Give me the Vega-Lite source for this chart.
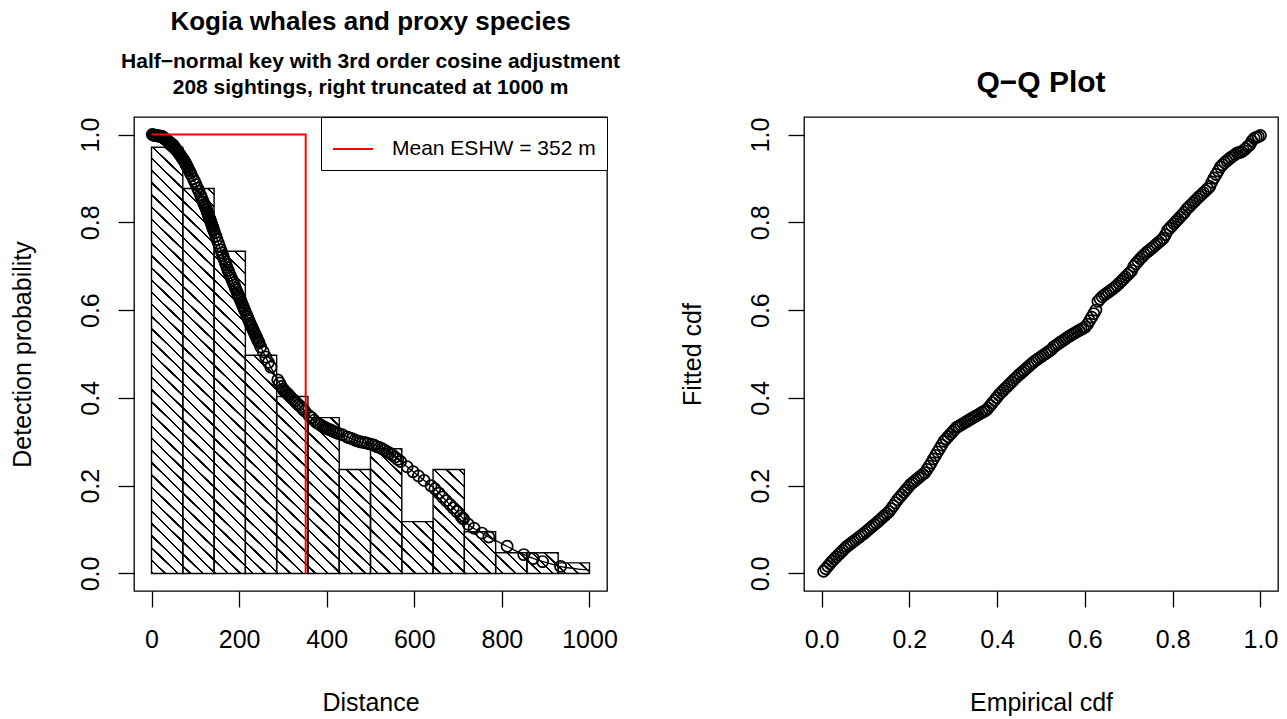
{
"$schema": "https://vega.github.io/schema/vega-lite/v6.json",
"background": "white",
"padding": {"left": 9, "top": 7, "right": 7, "bottom": 2},
"bounds": "flush",
"spacing": 197,
"config": {
  "font": "Liberation Sans",
  "view": {"stroke": "black", "strokeWidth": 1.3},
  "axis": {"domain": false, "grid": false, "ticks": true, "tickColor": "black", "tickWidth": 1.3, "tickSize": 16, "labelFont": "Liberation Sans", "labelFontSize": 25, "labelColor": "black", "titleFont": "Liberation Sans", "titleFontSize": 25, "titleFontWeight": "normal", "titleColor": "black", "labelFlush": false, "labelOverlap": false},
  "axisX": {"labelPadding": 20, "titlePadding": 38},
  "axisY": {"labelAngle": 270, "labelAlign": "center", "labelBaseline": "alphabetic", "labelPadding": 19.5, "titlePadding": 43},
  "title": {"font": "Liberation Sans", "fontWeight": "bold", "color": "black", "anchor": "middle", "frame": "group", "subtitleFont": "Liberation Sans", "subtitleFontWeight": "bold", "subtitleColor": "black"}
},
"datasets": {
  "hist": [
    {"lo": 0, "hi": 71.43, "n": 41, "h": 0.971},
    {"lo": 71.43, "hi": 142.86, "n": 37, "h": 0.877},
    {"lo": 142.86, "hi": 214.29, "n": 31, "h": 0.734},
    {"lo": 214.29, "hi": 285.71, "n": 21, "h": 0.497},
    {"lo": 285.71, "hi": 357.14, "n": 17, "h": 0.403},
    {"lo": 357.14, "hi": 428.57, "n": 15, "h": 0.355},
    {"lo": 428.57, "hi": 500, "n": 10, "h": 0.237},
    {"lo": 500, "hi": 571.43, "n": 12, "h": 0.284},
    {"lo": 571.43, "hi": 642.86, "n": 5, "h": 0.118},
    {"lo": 642.86, "hi": 714.29, "n": 10, "h": 0.237},
    {"lo": 714.29, "hi": 785.71, "n": 4, "h": 0.095},
    {"lo": 785.71, "hi": 857.14, "n": 2, "h": 0.047},
    {"lo": 857.14, "hi": 928.57, "n": 2, "h": 0.047},
    {"lo": 928.57, "hi": 1000, "n": 1, "h": 0.024}
  ],
  "curve": [
    {"d": 0, "p": 1.0}, {"d": 25, "p": 0.995}, {"d": 50, "p": 0.975}, {"d": 75, "p": 0.94}, {"d": 100, "p": 0.89},
    {"d": 125, "p": 0.83}, {"d": 150, "p": 0.76}, {"d": 175, "p": 0.69}, {"d": 200, "p": 0.63}, {"d": 225, "p": 0.57},
    {"d": 250, "p": 0.515}, {"d": 275, "p": 0.465}, {"d": 300, "p": 0.42}, {"d": 325, "p": 0.395}, {"d": 350, "p": 0.37},
    {"d": 375, "p": 0.345}, {"d": 400, "p": 0.33}, {"d": 425, "p": 0.32}, {"d": 450, "p": 0.31}, {"d": 475, "p": 0.30},
    {"d": 500, "p": 0.295}, {"d": 525, "p": 0.285}, {"d": 550, "p": 0.27}, {"d": 575, "p": 0.25}, {"d": 600, "p": 0.23},
    {"d": 625, "p": 0.21}, {"d": 650, "p": 0.19}, {"d": 675, "p": 0.163}, {"d": 700, "p": 0.138}, {"d": 725, "p": 0.11},
    {"d": 750, "p": 0.095}, {"d": 775, "p": 0.08}, {"d": 800, "p": 0.068}, {"d": 825, "p": 0.055}, {"d": 850, "p": 0.043},
    {"d": 875, "p": 0.033}, {"d": 900, "p": 0.025}, {"d": 925, "p": 0.018}, {"d": 950, "p": 0.013}, {"d": 975, "p": 0.01},
    {"d": 1000, "p": 0.008}
  ],
  "eshw": [
    {"x": 0, "y": 1, "o": 1, "k": "Mean ESHW = 352 m"},
    {"x": 352, "y": 1, "o": 2, "k": "Mean ESHW = 352 m"},
    {"x": 352, "y": 0, "o": 3, "k": "Mean ESHW = 352 m"}
  ],
  "pts": [
    {"d":1.8,"p":1.0,"e":0.0048,"f":0.005},{"d":3.8,"p":0.999,"e":0.0096,"f":0.0107},{"d":5.8,"p":0.999,"e":0.0144,"f":0.0164},{"d":7.8,"p":0.998,"e":0.0192,"f":0.0221},
    {"d":9.8,"p":0.998,"e":0.024,"f":0.0278},{"d":11.6,"p":0.998,"e":0.0288,"f":0.0328},{"d":13.3,"p":0.997,"e":0.0337,"f":0.0377},{"d":15.0,"p":0.997,"e":0.0385,"f":0.0425},
    {"d":16.7,"p":0.997,"e":0.0433,"f":0.0473},{"d":18.4,"p":0.996,"e":0.0481,"f":0.0521},{"d":20.1,"p":0.996,"e":0.0529,"f":0.0569},{"d":21.7,"p":0.996,"e":0.0577,"f":0.0613},
    {"d":23.0,"p":0.995,"e":0.0625,"f":0.065},{"d":24.3,"p":0.995,"e":0.0673,"f":0.0687},{"d":25.6,"p":0.995,"e":0.0721,"f":0.0724},{"d":26.9,"p":0.993,"e":0.0769,"f":0.076},
    {"d":28.3,"p":0.992,"e":0.0817,"f":0.0797},{"d":29.6,"p":0.991,"e":0.0865,"f":0.0834},{"d":30.9,"p":0.99,"e":0.0913,"f":0.087},{"d":32.3,"p":0.989,"e":0.0962,"f":0.0908},
    {"d":33.7,"p":0.988,"e":0.101,"f":0.0948},{"d":35.2,"p":0.987,"e":0.1058,"f":0.0989},{"d":36.6,"p":0.986,"e":0.1106,"f":0.1029},{"d":38.1,"p":0.985,"e":0.1154,"f":0.107},
    {"d":39.5,"p":0.983,"e":0.1202,"f":0.111},{"d":40.9,"p":0.982,"e":0.125,"f":0.115},{"d":42.5,"p":0.981,"e":0.1298,"f":0.1193},{"d":44.0,"p":0.98,"e":0.1346,"f":0.1236},
    {"d":45.6,"p":0.979,"e":0.1394,"f":0.128},{"d":47.2,"p":0.977,"e":0.1442,"f":0.1323},{"d":48.7,"p":0.976,"e":0.149,"f":0.1366},{"d":50.3,"p":0.975,"e":0.1538,"f":0.1409},
    {"d":52.6,"p":0.971,"e":0.1587,"f":0.1473},{"d":55.1,"p":0.968,"e":0.1635,"f":0.1541},{"d":57.6,"p":0.964,"e":0.1683,"f":0.1609},{"d":60.1,"p":0.961,"e":0.1731,"f":0.1677},
    {"d":62.3,"p":0.958,"e":0.1779,"f":0.1735},{"d":64.3,"p":0.955,"e":0.1827,"f":0.1791},{"d":66.4,"p":0.952,"e":0.1875,"f":0.1847},{"d":68.5,"p":0.949,"e":0.1923,"f":0.1903},
    {"d":70.5,"p":0.946,"e":0.1971,"f":0.1959},
    {"d":72.8,"p":0.943,"e":0.2019,"f":0.2021},{"d":74.3,"p":0.941,"e":0.2067,"f":0.2061},{"d":75.8,"p":0.938,"e":0.2115,"f":0.21},{"d":77.3,"p":0.935,"e":0.2163,"f":0.214},
    {"d":78.8,"p":0.932,"e":0.2212,"f":0.218},{"d":80.4,"p":0.929,"e":0.226,"f":0.222},{"d":81.9,"p":0.926,"e":0.2308,"f":0.2259},{"d":83.4,"p":0.923,"e":0.2356,"f":0.2298},
    {"d":86.2,"p":0.918,"e":0.2404,"f":0.237},{"d":89.0,"p":0.912,"e":0.2452,"f":0.2444},{"d":91.9,"p":0.906,"e":0.25,"f":0.2519},{"d":95.4,"p":0.899,"e":0.2548,"f":0.2608},
    {"d":98.5,"p":0.893,"e":0.2596,"f":0.2688},{"d":101.6,"p":0.886,"e":0.2644,"f":0.2767},{"d":104.9,"p":0.878,"e":0.2692,"f":0.2846},{"d":108.1,"p":0.871,"e":0.274,"f":0.2926},
    {"d":111.6,"p":0.862,"e":0.2788,"f":0.3011},{"d":113.8,"p":0.857,"e":0.2837,"f":0.3064},{"d":116.0,"p":0.852,"e":0.2885,"f":0.3117},{"d":118.2,"p":0.846,"e":0.2933,"f":0.317},
    {"d":120.4,"p":0.841,"e":0.2981,"f":0.3223},{"d":122.5,"p":0.836,"e":0.3029,"f":0.3275},{"d":124.7,"p":0.831,"e":0.3077,"f":0.3328},{"d":125.8,"p":0.828,"e":0.3125,"f":0.3353},
    {"d":127.0,"p":0.824,"e":0.3173,"f":0.3382},{"d":128.3,"p":0.821,"e":0.3221,"f":0.3411},{"d":129.6,"p":0.817,"e":0.3269,"f":0.344},{"d":130.9,"p":0.813,"e":0.3317,"f":0.3469},
    {"d":132.2,"p":0.81,"e":0.3365,"f":0.3498},{"d":133.5,"p":0.806,"e":0.3413,"f":0.3527},{"d":134.8,"p":0.803,"e":0.3462,"f":0.3557},{"d":136.0,"p":0.799,"e":0.351,"f":0.3584},
    {"d":137.2,"p":0.796,"e":0.3558,"f":0.3611},{"d":138.4,"p":0.792,"e":0.3606,"f":0.3638},{"d":139.7,"p":0.789,"e":0.3654,"f":0.3666},{"d":140.9,"p":0.785,"e":0.3702,"f":0.3693},
    {"d":142.1,"p":0.782,"e":0.375,"f":0.372},
    {"d":144.2,"p":0.776,"e":0.3798,"f":0.3768},{"d":146.9,"p":0.769,"e":0.3846,"f":0.3827},{"d":149.5,"p":0.761,"e":0.3894,"f":0.3887},{"d":152.4,"p":0.753,"e":0.3942,"f":0.3947},
    {"d":155.3,"p":0.745,"e":0.399,"f":0.4006},{"d":158.2,"p":0.737,"e":0.4038,"f":0.4066},{"d":160.7,"p":0.73,"e":0.4087,"f":0.4117},{"d":163.0,"p":0.724,"e":0.4135,"f":0.4165},
    {"d":165.4,"p":0.717,"e":0.4183,"f":0.4213},{"d":167.7,"p":0.71,"e":0.4231,"f":0.4261},{"d":170.0,"p":0.704,"e":0.4279,"f":0.4309},{"d":172.4,"p":0.697,"e":0.4327,"f":0.4357},
    {"d":174.7,"p":0.691,"e":0.4375,"f":0.4405},{"d":177.2,"p":0.685,"e":0.4423,"f":0.4453},{"d":179.7,"p":0.679,"e":0.4471,"f":0.4498},{"d":182.0,"p":0.673,"e":0.4519,"f":0.4541},
    {"d":184.3,"p":0.668,"e":0.4567,"f":0.4584},{"d":186.6,"p":0.662,"e":0.4615,"f":0.4627},{"d":188.8,"p":0.657,"e":0.4663,"f":0.4669},{"d":191.1,"p":0.651,"e":0.4712,"f":0.4712},
    {"d":193.4,"p":0.646,"e":0.476,"f":0.4755},{"d":195.7,"p":0.64,"e":0.4808,"f":0.4797},{"d":197.6,"p":0.636,"e":0.4856,"f":0.4834},{"d":199.5,"p":0.631,"e":0.4904,"f":0.4868},
    {"d":201.4,"p":0.627,"e":0.4952,"f":0.4902},{"d":203.4,"p":0.622,"e":0.5,"f":0.4936},{"d":205.4,"p":0.617,"e":0.5048,"f":0.497},{"d":207.4,"p":0.612,"e":0.5096,"f":0.5003},
    {"d":209.3,"p":0.608,"e":0.5144,"f":0.5036},{"d":211.3,"p":0.603,"e":0.5192,"f":0.5069},{"d":213.2,"p":0.598,"e":0.524,"f":0.5102},
    {"d":216.8,"p":0.59,"e":0.5288,"f":0.5162},{"d":218.7,"p":0.585,"e":0.5337,"f":0.5195},{"d":220.7,"p":0.58,"e":0.5385,"f":0.5228},{"d":222.6,"p":0.576,"e":0.5433,"f":0.5261},
    {"d":224.5,"p":0.571,"e":0.5481,"f":0.5294},{"d":226.6,"p":0.566,"e":0.5529,"f":0.5327},{"d":228.8,"p":0.562,"e":0.5577,"f":0.536},{"d":230.9,"p":0.557,"e":0.5625,"f":0.5393},
    {"d":232.9,"p":0.553,"e":0.5673,"f":0.5423},{"d":234.7,"p":0.549,"e":0.5721,"f":0.5451},{"d":236.5,"p":0.545,"e":0.5769,"f":0.5479},{"d":238.3,"p":0.541,"e":0.5817,"f":0.5506},
    {"d":240.1,"p":0.537,"e":0.5865,"f":0.5534},{"d":241.9,"p":0.533,"e":0.5913,"f":0.5562},{"d":243.8,"p":0.529,"e":0.5962,"f":0.559},{"d":245.6,"p":0.525,"e":0.601,"f":0.5618},
    {"d":249.4,"p":0.516,"e":0.6058,"f":0.5677},{"d":255.2,"p":0.505,"e":0.6106,"f":0.5758},{"d":261.0,"p":0.493,"e":0.6154,"f":0.5839},{"d":266.8,"p":0.481,"e":0.6202,"f":0.5919},
    {"d":272.6,"p":0.47,"e":0.625,"f":0.6},
    {"d":288.3,"p":0.441,"e":0.6298,"f":0.62},{"d":292.5,"p":0.434,"e":0.6346,"f":0.6252},{"d":296.7,"p":0.426,"e":0.6394,"f":0.6305},{"d":299.8,"p":0.42,"e":0.6442,"f":0.6343},
    {"d":302.9,"p":0.417,"e":0.649,"f":0.6379},{"d":305.9,"p":0.414,"e":0.6538,"f":0.6414},{"d":309.0,"p":0.411,"e":0.6587,"f":0.645},{"d":312.0,"p":0.408,"e":0.6635,"f":0.6485},
    {"d":315.1,"p":0.405,"e":0.6683,"f":0.652},{"d":318.6,"p":0.401,"e":0.6731,"f":0.656},{"d":322.8,"p":0.397,"e":0.6779,"f":0.6609},{"d":327.1,"p":0.393,"e":0.6827,"f":0.6657},
    {"d":331.6,"p":0.388,"e":0.6875,"f":0.6705},{"d":336.0,"p":0.384,"e":0.6923,"f":0.6753},{"d":340.5,"p":0.38,"e":0.6971,"f":0.6801},{"d":344.9,"p":0.375,"e":0.7019,"f":0.6849},
    {"d":349.6,"p":0.37,"e":0.7067,"f":0.69},
    {"d":359.5,"p":0.36,"e":0.7115,"f":0.7},{"d":365.2,"p":0.355,"e":0.7163,"f":0.7058},{"d":371.0,"p":0.349,"e":0.7212,"f":0.7116},{"d":376.4,"p":0.344,"e":0.726,"f":0.717},
    {"d":381.4,"p":0.341,"e":0.7308,"f":0.7218},{"d":386.4,"p":0.338,"e":0.7356,"f":0.7266},{"d":391.5,"p":0.335,"e":0.7404,"f":0.7314},{"d":395.1,"p":0.333,"e":0.7452,"f":0.7349},
    {"d":399.4,"p":0.33,"e":0.75,"f":0.739},{"d":403.7,"p":0.329,"e":0.7548,"f":0.743},{"d":408.2,"p":0.327,"e":0.7596,"f":0.7471},{"d":412.6,"p":0.325,"e":0.7644,"f":0.7512},
    {"d":417.0,"p":0.323,"e":0.7692,"f":0.7552},{"d":421.4,"p":0.321,"e":0.774,"f":0.7593},{"d":426.5,"p":0.319,"e":0.7788,"f":0.764},
    {"d":435.5,"p":0.316,"e":0.7837,"f":0.772},{"d":446.4,"p":0.311,"e":0.7885,"f":0.7817},{"d":452.2,"p":0.309,"e":0.7933,"f":0.7868},{"d":458.1,"p":0.307,"e":0.7981,"f":0.7919},
    {"d":464.0,"p":0.304,"e":0.8029,"f":0.797},{"d":470.0,"p":0.302,"e":0.8077,"f":0.8022},{"d":476.0,"p":0.3,"e":0.8125,"f":0.8073},{"d":482.0,"p":0.299,"e":0.8173,"f":0.8124},
    {"d":488.1,"p":0.298,"e":0.8221,"f":0.8175},{"d":494.2,"p":0.296,"e":0.8269,"f":0.8226},
    {"d":502.7,"p":0.294,"e":0.8317,"f":0.8297},{"d":508.5,"p":0.292,"e":0.8365,"f":0.8345},{"d":514.4,"p":0.289,"e":0.8413,"f":0.8393},{"d":520.4,"p":0.287,"e":0.8462,"f":0.8442},
    {"d":526.3,"p":0.284,"e":0.851,"f":0.849},{"d":532.4,"p":0.281,"e":0.8558,"f":0.8538},{"d":538.5,"p":0.277,"e":0.8606,"f":0.8586},{"d":544.0,"p":0.274,"e":0.8654,"f":0.863},
    {"d":549.9,"p":0.27,"e":0.8702,"f":0.8676},{"d":555.9,"p":0.265,"e":0.875,"f":0.872},{"d":562.3,"p":0.26,"e":0.8798,"f":0.8767},{"d":568.9,"p":0.255,"e":0.8846,"f":0.8815},
    {"d":583.8,"p":0.243,"e":0.8894,"f":0.892},{"d":597.1,"p":0.232,"e":0.8942,"f":0.901},{"d":609.6,"p":0.222,"e":0.899,"f":0.909},{"d":622.4,"p":0.212,"e":0.9038,"f":0.917},
    {"d":638.1,"p":0.2,"e":0.9087,"f":0.926},
    {"d":646.9,"p":0.193,"e":0.9135,"f":0.931},{"d":656.6,"p":0.183,"e":0.9183,"f":0.936},{"d":664.6,"p":0.174,"e":0.9231,"f":0.94},{"d":672.6,"p":0.166,"e":0.9279,"f":0.944},
    {"d":681.5,"p":0.157,"e":0.9327,"f":0.948},{"d":688.6,"p":0.149,"e":0.9375,"f":0.951},{"d":696.7,"p":0.141,"e":0.9423,"f":0.9545},{"d":706.0,"p":0.131,"e":0.9471,"f":0.958},
    {"d":710.3,"p":0.126,"e":0.9519,"f":0.9595},{"d":712.6,"p":0.124,"e":0.9567,"f":0.9603},
    {"d":723.2,"p":0.112,"e":0.9615,"f":0.964},{"d":736.6,"p":0.103,"e":0.9663,"f":0.968},{"d":754.4,"p":0.092,"e":0.9712,"f":0.973},{"d":770.2,"p":0.083,"e":0.976,"f":0.977},
    {"d":812,"p":0.062,"e":0.9808,"f":0.9854},{"d":850,"p":0.043,"e":0.9856,"f":0.9911},{"d":872,"p":0.034,"e":0.9904,"f":0.9935},{"d":893,"p":0.027,"e":0.9952,"f":0.9952},
    {"d":934,"p":0.016,"e":1.0,"f":0.9978}
  ]
},
"hconcat": [
  {
    "width": 473,
    "height": 474,
    "title": {"text": "Kogia whales and proxy species", "subtitle": ["Half\u2212normal key with 3rd order cosine adjustment", "208 sightings, right truncated at 1000 m"], "fontSize": 26, "subtitleFontSize": 21, "subtitleLineHeight": 26, "subtitlePadding": 16, "offset": 19},
    "layer": [
      {
        "data": {"name": "hist"},
        "transform": [{"fold": ["lo", "hi"], "as": ["edge", "xv"]}],
        "mark": {"type": "area", "stroke": null, "opacity": 1, "fill": {"gradient": "linear", "x1": 0, "y1": 1, "x2": 1, "y2": 0, "stops": [
          {"offset":0,"color":"#fff"},{"offset":0.0003,"color":"#000"},{"offset":0.0027,"color":"#000"},{"offset":0.003,"color":"#fff"},
          {"offset":0.0143,"color":"#fff"},{"offset":0.0146,"color":"#000"},{"offset":0.017,"color":"#000"},{"offset":0.0173,"color":"#fff"},
          {"offset":0.0286,"color":"#fff"},{"offset":0.0289,"color":"#000"},{"offset":0.0313,"color":"#000"},{"offset":0.0316,"color":"#fff"},
          {"offset":0.0429,"color":"#fff"},{"offset":0.0432,"color":"#000"},{"offset":0.0456,"color":"#000"},{"offset":0.0459,"color":"#fff"},
          {"offset":0.0571,"color":"#fff"},{"offset":0.0574,"color":"#000"},{"offset":0.0598,"color":"#000"},{"offset":0.0601,"color":"#fff"},
          {"offset":0.0714,"color":"#fff"},{"offset":0.0717,"color":"#000"},{"offset":0.0741,"color":"#000"},{"offset":0.0744,"color":"#fff"},
          {"offset":0.0857,"color":"#fff"},{"offset":0.086,"color":"#000"},{"offset":0.0884,"color":"#000"},{"offset":0.0887,"color":"#fff"},
          {"offset":0.1,"color":"#fff"},{"offset":0.1003,"color":"#000"},{"offset":0.1027,"color":"#000"},{"offset":0.103,"color":"#fff"},
          {"offset":0.1143,"color":"#fff"},{"offset":0.1146,"color":"#000"},{"offset":0.117,"color":"#000"},{"offset":0.1173,"color":"#fff"},
          {"offset":0.1286,"color":"#fff"},{"offset":0.1289,"color":"#000"},{"offset":0.1313,"color":"#000"},{"offset":0.1316,"color":"#fff"},
          {"offset":0.1429,"color":"#fff"},{"offset":0.1432,"color":"#000"},{"offset":0.1456,"color":"#000"},{"offset":0.1459,"color":"#fff"},
          {"offset":0.1571,"color":"#fff"},{"offset":0.1574,"color":"#000"},{"offset":0.1598,"color":"#000"},{"offset":0.1601,"color":"#fff"},
          {"offset":0.1714,"color":"#fff"},{"offset":0.1717,"color":"#000"},{"offset":0.1741,"color":"#000"},{"offset":0.1744,"color":"#fff"},
          {"offset":0.1857,"color":"#fff"},{"offset":0.186,"color":"#000"},{"offset":0.1884,"color":"#000"},{"offset":0.1887,"color":"#fff"},
          {"offset":0.2,"color":"#fff"},{"offset":0.2003,"color":"#000"},{"offset":0.2027,"color":"#000"},{"offset":0.203,"color":"#fff"},
          {"offset":0.2143,"color":"#fff"},{"offset":0.2146,"color":"#000"},{"offset":0.217,"color":"#000"},{"offset":0.2173,"color":"#fff"},
          {"offset":0.2286,"color":"#fff"},{"offset":0.2289,"color":"#000"},{"offset":0.2313,"color":"#000"},{"offset":0.2316,"color":"#fff"},
          {"offset":0.2429,"color":"#fff"},{"offset":0.2432,"color":"#000"},{"offset":0.2456,"color":"#000"},{"offset":0.2459,"color":"#fff"},
          {"offset":0.2571,"color":"#fff"},{"offset":0.2574,"color":"#000"},{"offset":0.2598,"color":"#000"},{"offset":0.2601,"color":"#fff"},
          {"offset":0.2714,"color":"#fff"},{"offset":0.2717,"color":"#000"},{"offset":0.2741,"color":"#000"},{"offset":0.2744,"color":"#fff"},
          {"offset":0.2857,"color":"#fff"},{"offset":0.286,"color":"#000"},{"offset":0.2884,"color":"#000"},{"offset":0.2887,"color":"#fff"},
          {"offset":0.3,"color":"#fff"},{"offset":0.3003,"color":"#000"},{"offset":0.3027,"color":"#000"},{"offset":0.303,"color":"#fff"},
          {"offset":0.3143,"color":"#fff"},{"offset":0.3146,"color":"#000"},{"offset":0.317,"color":"#000"},{"offset":0.3173,"color":"#fff"},
          {"offset":0.3286,"color":"#fff"},{"offset":0.3289,"color":"#000"},{"offset":0.3313,"color":"#000"},{"offset":0.3316,"color":"#fff"},
          {"offset":0.3429,"color":"#fff"},{"offset":0.3432,"color":"#000"},{"offset":0.3456,"color":"#000"},{"offset":0.3459,"color":"#fff"},
          {"offset":0.3571,"color":"#fff"},{"offset":0.3574,"color":"#000"},{"offset":0.3598,"color":"#000"},{"offset":0.3601,"color":"#fff"},
          {"offset":0.3714,"color":"#fff"},{"offset":0.3717,"color":"#000"},{"offset":0.3741,"color":"#000"},{"offset":0.3744,"color":"#fff"},
          {"offset":0.3857,"color":"#fff"},{"offset":0.386,"color":"#000"},{"offset":0.3884,"color":"#000"},{"offset":0.3887,"color":"#fff"},
          {"offset":0.4,"color":"#fff"},{"offset":0.4003,"color":"#000"},{"offset":0.4027,"color":"#000"},{"offset":0.403,"color":"#fff"},
          {"offset":0.4143,"color":"#fff"},{"offset":0.4146,"color":"#000"},{"offset":0.417,"color":"#000"},{"offset":0.4173,"color":"#fff"},
          {"offset":0.4286,"color":"#fff"},{"offset":0.4289,"color":"#000"},{"offset":0.4313,"color":"#000"},{"offset":0.4316,"color":"#fff"},
          {"offset":0.4429,"color":"#fff"},{"offset":0.4432,"color":"#000"},{"offset":0.4456,"color":"#000"},{"offset":0.4459,"color":"#fff"},
          {"offset":0.4571,"color":"#fff"},{"offset":0.4574,"color":"#000"},{"offset":0.4598,"color":"#000"},{"offset":0.4601,"color":"#fff"},
          {"offset":0.4714,"color":"#fff"},{"offset":0.4717,"color":"#000"},{"offset":0.4741,"color":"#000"},{"offset":0.4744,"color":"#fff"},
          {"offset":0.4857,"color":"#fff"},{"offset":0.486,"color":"#000"},{"offset":0.4884,"color":"#000"},{"offset":0.4887,"color":"#fff"},
          {"offset":0.5,"color":"#fff"},{"offset":0.5003,"color":"#000"},{"offset":0.5027,"color":"#000"},{"offset":0.503,"color":"#fff"},
          {"offset":0.5143,"color":"#fff"},{"offset":0.5146,"color":"#000"},{"offset":0.517,"color":"#000"},{"offset":0.5173,"color":"#fff"},
          {"offset":0.5286,"color":"#fff"},{"offset":0.5289,"color":"#000"},{"offset":0.5313,"color":"#000"},{"offset":0.5316,"color":"#fff"},
          {"offset":0.5429,"color":"#fff"},{"offset":0.5432,"color":"#000"},{"offset":0.5456,"color":"#000"},{"offset":0.5459,"color":"#fff"},
          {"offset":0.5571,"color":"#fff"},{"offset":0.5574,"color":"#000"},{"offset":0.5598,"color":"#000"},{"offset":0.5601,"color":"#fff"},
          {"offset":0.5714,"color":"#fff"},{"offset":0.5717,"color":"#000"},{"offset":0.5741,"color":"#000"},{"offset":0.5744,"color":"#fff"},
          {"offset":0.5857,"color":"#fff"},{"offset":0.586,"color":"#000"},{"offset":0.5884,"color":"#000"},{"offset":0.5887,"color":"#fff"},
          {"offset":0.6,"color":"#fff"},{"offset":0.6003,"color":"#000"},{"offset":0.6027,"color":"#000"},{"offset":0.603,"color":"#fff"},
          {"offset":1,"color":"#fff"}
        ]}},
        "encoding": {
          "x": {"field": "xv", "type": "quantitative", "title": "Distance", "scale": {"domain": [-40, 1040], "nice": false, "zero": false}, "axis": {"values": [0, 200, 400, 600, 800, 1000], "format": "d"}},
          "y": {"field": "h", "type": "quantitative", "title": "Detection probability", "scale": {"domain": [-0.04, 1.04], "nice": false, "zero": false}, "axis": {"values": [0, 0.2, 0.4, 0.6, 0.8, 1.0], "format": ".1f"}},
          "y2": {"datum": 0}
        }
      },
      {
        "data": {"name": "hist"},
        "mark": {"type": "bar", "fill": "transparent", "stroke": "black", "strokeWidth": 1.4, "opacity": 1},
        "encoding": {
          "x": {"field": "lo", "type": "quantitative", "title": "Distance"},
          "x2": {"field": "hi"},
          "y": {"field": "h", "type": "quantitative", "title": "Detection probability"},
          "y2": {"datum": 0}
        }
      },
      {
        "data": {"name": "curve"},
        "mark": {"type": "line", "color": "black", "strokeWidth": 1.3, "interpolate": "monotone"},
        "encoding": {
          "x": {"field": "d", "type": "quantitative", "title": "Distance"},
          "y": {"field": "p", "type": "quantitative", "title": "Detection probability"}
        }
      },
      {
        "data": {"name": "pts"},
        "mark": {"type": "point", "shape": "circle", "filled": false, "stroke": "black", "strokeWidth": 1.7, "size": 125, "opacity": 1},
        "encoding": {
          "x": {"field": "d", "type": "quantitative", "title": "Distance"},
          "y": {"field": "p", "type": "quantitative", "title": "Detection probability"}
        }
      },
      {
        "data": {"name": "eshw"},
        "mark": {"type": "line", "strokeWidth": 2},
        "encoding": {
          "x": {"field": "x", "type": "quantitative", "title": "Distance"},
          "y": {"field": "y", "type": "quantitative", "title": "Detection probability"},
          "order": {"field": "o", "type": "quantitative"},
          "color": {"field": "k", "type": "nominal", "scale": {"range": ["#ff0000"]}, "legend": {"title": null, "orient": "top-right", "offset": 0, "strokeColor": "black", "fillColor": "white", "padding": 11, "symbolType": "stroke", "symbolSize": 1600, "symbolStrokeWidth": 2, "labelFontSize": 21, "labelFont": "Liberation Sans", "labelColor": "black", "labelOffset": 18, "labelLimit": 400}}
        }
      }
    ]
  },
  {
    "width": 474,
    "height": 474,
    "title": {"text": "Q\u2212Q Plot", "fontSize": 30, "offset": 19.5},
    "layer": [
      {
        "mark": {"type": "rule", "color": "black", "strokeWidth": 1.2},
        "encoding": {
          "x": {"datum": -0.04, "type": "quantitative", "title": "Empirical cdf", "scale": {"domain": [-0.04, 1.04], "nice": false, "zero": false}, "axis": {"values": [0, 0.2, 0.4, 0.6, 0.8, 1.0], "format": ".1f"}},
          "y": {"datum": -0.04, "type": "quantitative", "title": "Fitted cdf", "scale": {"domain": [-0.04, 1.04], "nice": false, "zero": false}, "axis": {"values": [0, 0.2, 0.4, 0.6, 0.8, 1.0], "format": ".1f"}},
          "x2": {"datum": 1.04},
          "y2": {"datum": 1.04}
        }
      },
      {
        "data": {"name": "pts"},
        "mark": {"type": "point", "shape": "circle", "filled": false, "stroke": "black", "strokeWidth": 1.7, "size": 125, "opacity": 1},
        "encoding": {
          "x": {"field": "e", "type": "quantitative", "title": "Empirical cdf"},
          "y": {"field": "f", "type": "quantitative", "title": "Fitted cdf"}
        }
      }
    ]
  }
],
"resolve": {"scale": {"x": "independent", "y": "independent", "color": "independent"}}
}
